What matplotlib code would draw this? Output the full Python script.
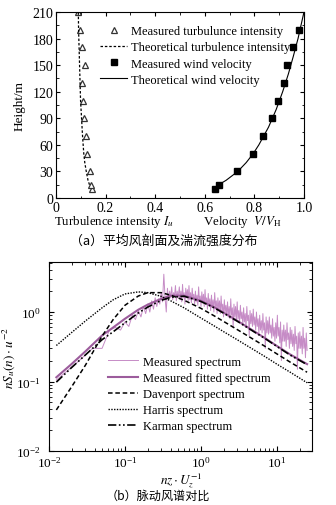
import numpy as np
import matplotlib
matplotlib.use('Agg')
import matplotlib.pyplot as plt
from matplotlib.ticker import MultipleLocator, LogLocator, NullFormatter, FuncFormatter

plt.rcParams['font.family'] = ['Liberation Serif', 'Noto Sans CJK SC']
plt.rcParams['mathtext.fontset'] = 'stix'

# (a) wind profile data
z_meas = [10, 15, 30, 50, 70, 90, 110, 130, 150, 170, 190]
v_meas = [0.642, 0.659, 0.729, 0.793, 0.834, 0.870, 0.894, 0.918, 0.933, 0.957, 0.981]
z_ti = [10, 15, 30, 50, 70, 90, 110, 130, 150, 170, 190, 210]
ti_meas = [0.145, 0.142, 0.138, 0.125, 0.121, 0.113, 0.109, 0.105, 0.117, 0.106, 0.098, 0.087]
z_theo = [15, 20, 30, 40, 50, 60, 80, 100, 120, 140, 160, 180, 200, 210]
v_theo = [0.656, 0.686, 0.733, 0.767, 0.795, 0.818, 0.857, 0.888, 0.914, 0.937, 0.957, 0.976, 0.992, 1.0]
z_ti_theo = [15, 20, 30, 40, 50, 70, 90, 110, 130, 150, 170, 190, 210]
ti_theo = [0.135, 0.129, 0.122, 0.116, 0.112, 0.107, 0.103, 0.099, 0.097, 0.095, 0.093, 0.091, 0.09]

# (b) spectra
f_th = [0.0125, 0.02, 0.03, 0.05, 0.07, 0.1, 0.15, 0.2, 0.3, 0.4, 0.6, 1, 1.5, 2, 3, 5, 7, 10, 15, 25]
s_harris = [0.33, 0.51, 0.74, 1.15, 1.5, 1.82, 1.95, 1.9, 1.68, 1.45, 1.15, 0.82, 0.63, 0.52, 0.40, 0.285, 0.228, 0.178, 0.136, 0.096]
s_daven = [0.039, 0.085, 0.17, 0.45, 0.78, 1.25, 1.7, 1.9, 1.9, 1.75, 1.48, 1.13, 0.88, 0.73, 0.56, 0.40, 0.32, 0.25, 0.19, 0.136]
s_karman = [0.098, 0.16, 0.24, 0.40, 0.52, 0.70, 0.97, 1.18, 1.47, 1.63, 1.69, 1.42, 1.15, 0.96, 0.74, 0.52, 0.415, 0.32, 0.24, 0.175]
s_fit = [0.115, 0.18, 0.27, 0.46, 0.60, 0.80, 1.08, 1.28, 1.55, 1.72, 1.72, 1.45, 1.17, 0.98, 0.75, 0.53, 0.42, 0.325, 0.245, 0.178]

f_meas = np.concatenate([0.0125 * np.arange(1, 41), np.geomspace(0.52, 25, 160)])
s_meas = [
    0.105, 0.2, 0.3, 0.3, 0.55, 0.6, 0.55, 0.72, 0.62, 0.9,
    0.78, 1.05, 0.85, 1.2, 0.95, 1.3, 1.0, 1.45, 1.1, 1.6,
    1.2, 1.55, 1.3, 1.9, 1.4, 3.5, 1.6, 1.0, 2.2, 1.5,
    2.0, 1.6, 2.3, 1.5, 1.9, 1.7, 2.4, 1.45, 2.0, 1.6,
    2.3, 1.5, 2.0, 1.4, 2.5, 1.6, 1.9, 1.3, 2.2, 1.6,
    2.1, 1.45, 2.4, 1.5, 1.9, 1.35, 2.2, 1.55, 1.8, 1.3,
    2.0, 1.4, 1.75, 1.25, 2.3, 1.45, 1.7, 1.2, 1.95, 1.35,
    1.8, 1.2, 2.1, 1.3, 1.6, 1.1, 1.85, 1.25, 1.55, 1.05,
    1.75, 1.15, 1.5, 1.0, 1.9, 1.2, 1.45, 0.95, 1.6, 1.1,
    1.45, 0.95, 1.7, 1.05, 1.3, 0.85, 1.5, 1.0, 1.25, 0.9,
    1.4, 0.85, 1.2, 0.8, 1.55, 0.9, 1.15, 0.6, 1.3, 0.85,
    1.2, 0.75, 1.4, 0.8, 1.05, 0.7, 1.25, 0.8, 1.0, 0.65,
    1.15, 0.72, 0.95, 0.6, 1.2, 0.75, 0.9, 0.45, 1.05, 0.68,
    0.95, 0.62, 1.1, 0.65, 0.85, 0.55, 1.0, 0.62, 0.8, 0.5,
    0.9, 0.55, 0.75, 0.5, 0.95, 0.55, 0.7, 0.3, 0.85, 0.5,
    0.75, 0.48, 0.85, 0.5, 0.65, 0.42, 0.8, 0.45, 0.6, 0.38,
    0.7, 0.42, 0.9, 0.45, 0.6, 0.36, 0.72, 0.2, 0.55, 0.38,
    0.65, 0.38, 0.55, 0.32, 0.7, 0.4, 0.5, 0.3, 0.6, 0.35,
    0.55, 0.32, 0.48, 0.28, 0.62, 0.35, 0.45, 0.15, 0.5, 0.3,
    0.52, 0.3, 0.45, 0.25, 0.6, 0.3, 0.42, 0.22, 0.5, 0.28,
]

fig = plt.figure(figsize=(3.36, 5.06), dpi=100)

# top panel - wind profile
ax1 = fig.add_axes([0.1667, 0.6067, 0.738, 0.3676])
ax1.plot(ti_meas, z_ti, ls='none', marker='^', ms=3.8, mfc='white', mec='#333333', mew=0.9,
         label='Measured turbulunce intensity')
ax1.plot(ti_theo, z_ti_theo, color='black', lw=0.9, ls=(0, (2, 1.5)),
         label='Theoretical turbulence intensity')
ax1.plot(v_meas, z_meas, ls='none', marker='s', ms=3.8, color='black',
         label='Measured wind velocity')
ax1.plot(v_theo, z_theo, color='black', lw=0.8, label='Theoretical wind velocity')
ax1.set_xlim(0, 1)
ax1.set_ylim(0, 210)
ax1.xaxis.set_major_locator(MultipleLocator(0.2))
ax1.xaxis.set_minor_locator(MultipleLocator(0.1))
ax1.yaxis.set_major_locator(MultipleLocator(30))
ax1.yaxis.set_minor_locator(MultipleLocator(15))
ax1.xaxis.set_major_formatter(FuncFormatter(lambda v, p: '0' if abs(v) < 1e-9 else '%.1f' % v))
ax1.tick_params(which='both', direction='in', top=True, right=True, labelsize=10, pad=2)
ax1.tick_params(which='major', length=3)
ax1.tick_params(which='minor', length=1.8)
ax1.set_ylabel('Height/m', fontsize=9.5, labelpad=5)
fig.text(0.34, 0.562, 'Turbulence intensity $I_u$', fontsize=9.3, ha='center', va='center')
fig.text(0.72, 0.562, r'Velocity  $V/V_{\rm H}$', fontsize=9.3, ha='center', va='center')
ax1.legend(loc='upper left', bbox_to_anchor=(0.2976, 0.948), bbox_transform=fig.transFigure,
           frameon=False, fontsize=9, handlelength=2.2, handletextpad=0.25,
           labelspacing=0.33, borderpad=0, borderaxespad=0)
fig.text(0.486, 0.523, '（a）平均风剖面及湍流强度分布', fontsize=9.3, ha='center', va='center',
         family=['Noto Sans CJK SC'])

# bottom panel - spectra
ax2 = fig.add_axes([0.1458, 0.1067, 0.7827, 0.373])
ax2.plot(f_meas, s_meas, color='#c68cc6', lw=0.7, label='Measured spectrum')
ax2.plot(f_th, s_fit, color='#9c5c9c', lw=1.5, label='Measured fitted spectrum')
ax2.plot(f_th, s_daven, color='black', lw=1.1, ls=(0, (3, 1.8)), label='Davenport spectrum')
ax2.plot(f_th, s_harris, color='black', lw=1.0, ls=(0, (1, 1)), label='Harris spectrum')
ax2.plot(f_th, s_karman, color='black', lw=1.2, ls=(0, (5, 1.5, 1, 1.5, 1, 1.5)), label='Karman spectrum')
ax2.set_xscale('log')
ax2.set_yscale('log')
ax2.set_xlim(0.01, 29)
ax2.set_ylim(0.01, 5.2)
ax2.xaxis.set_minor_locator(LogLocator(base=10, subs=np.arange(2, 10)))
ax2.yaxis.set_minor_locator(LogLocator(base=10, subs=np.arange(2, 10)))
ax2.xaxis.set_minor_formatter(NullFormatter())
ax2.yaxis.set_minor_formatter(NullFormatter())
ax2.tick_params(which='both', direction='in', top=True, right=True, labelsize=9.5)
ax2.tick_params(axis='x', pad=3)
ax2.tick_params(axis='y', pad=6)
ax2.tick_params(which='major', length=3.5)
ax2.tick_params(which='minor', length=2)
ax2.set_ylabel(r'$nS_u(n)\cdot u^{-2}$', fontsize=9.5, labelpad=-1)
fig.text(0.54, 0.050, r'$nz\cdot U_z^{-1}$', fontsize=9.5, ha='center', va='center')
ax2.legend(loc='upper left', bbox_to_anchor=(0.321, 0.2949), bbox_transform=fig.transFigure,
           frameon=False, fontsize=9, handlelength=2.4, handletextpad=0.45,
           labelspacing=0.33, borderpad=0, borderaxespad=0)
fig.text(0.47, 0.019, '（b）脉动风谱对比', fontsize=8.7, ha='center', va='center',
         family=['Noto Sans CJK SC'])

fig.savefig('out.png', dpi=100)
